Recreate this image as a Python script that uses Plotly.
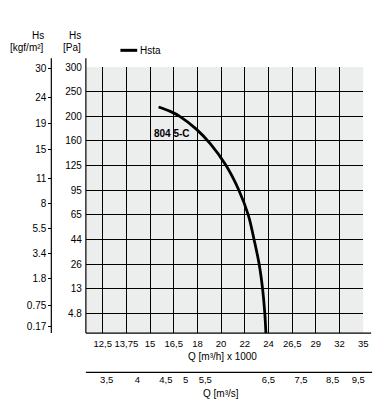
import numpy as np
import plotly.graph_objects as go

# ---- data ----
q_h_labels = ["12,5", "13,75", "15", "16,5", "18", "20", "22", "24", "26,5", "29", "32", "35"]
q_h_values = [12.5, 13.75, 15, 16.5, 18, 20, 22, 24, 26.5, 29, 32, 35]
q_s_labels = ["3,5", "4", "4,5", "5", "5,5", "6,5", "7,5", "8,5", "9,5"]
pa_labels = ["4.8", "13", "26", "44", "65", "95", "125", "160", "200", "250", "300"]
pa_values = [4.8, 13, 26, 44, 65, 95, 125, 160, 200, 250, 300]
kgf_labels = ["30", "24", "19", "15", "11", "8", "5.5", "3.4", "1.8", "0.75", "0.17"]

# curve "804 5-C" (Hsta): Q [m3/h x 1000], Hs [Pa]
curve_q = [15.54, 16.28, 16.88, 17.93, 19.1, 20.42, 21.5, 22.29, 22.78, 23.21, 23.5, 23.69, 23.78]
curve_pa = [219, 210, 200, 179.2, 155.8, 125, 95, 65, 44, 26, 13, 4.8, 0.0]

# ---- layout positions (nomograph scale positions) ----
q_h_pos = list(range(len(q_h_values)))
q_s_pos = [0.17, 1.46, 2.67, 3.5, 4.33, 7.0, 8.375, 9.71, 10.79]
pa_pos = list(range(len(pa_values)))
kgf_pos = [9.96, 8.76, 7.72, 6.64, 5.48, 4.48, 3.44, 2.44, 1.4, 0.32, -0.52]
Y0 = -0.8
X0 = -0.71

W, H = 385, 401
def px(x): return x / W
def py(y): return 1 - y / H

# map data to nomograph axis positions
cx = np.interp(curve_q, q_h_values, q_h_pos)
cy = np.interp(curve_pa, [0.0] + pa_values, [Y0] + pa_pos)

FONT = "Liberation Sans, Arial, sans-serif"

fig = go.Figure()
fig.add_trace(go.Scatter(x=cx, y=cy, mode="lines", name="Hsta",
                         line=dict(color="black", width=2.8, shape="spline", smoothing=1.0),
                         showlegend=False))
fig.add_trace(go.Scatter(x=[0], y=[0], yaxis="y2", mode="markers",
                         marker=dict(opacity=0), showlegend=False, hoverinfo="skip"))
fig.add_trace(go.Scatter(x=[0], y=[0], xaxis="x2", mode="markers",
                         marker=dict(opacity=0), showlegend=False, hoverinfo="skip"))

fig.update_layout(
    width=W, height=H,
    margin=dict(l=0, r=0, t=0, b=0),
    paper_bgcolor="white",
    plot_bgcolor="rgb(236,237,237)",
    font=dict(family=FONT, size=10, color="black"),
    xaxis=dict(domain=[px(87), px(368)], range=[X0, 11], tickvals=q_h_pos, ticktext=q_h_labels,
               showgrid=True, gridcolor="black", gridwidth=1.2, zeroline=False, tickangle=0,
               ticks="outside", ticklen=2, tickcolor="rgba(0,0,0,0)", showline=False,
               tickfont=dict(size=9.5)),
    xaxis2=dict(overlaying="x", anchor="free", position=py(372), side="bottom",
                range=[X0, 11], tickvals=q_s_pos, ticktext=q_s_labels, tickangle=0,
                showgrid=False, zeroline=False, ticks="", showline=False, tickfont=dict(size=9.5)),
    yaxis=dict(domain=[py(332), py(62)], range=[Y0, 10], tickvals=pa_pos, ticktext=pa_labels,
               showgrid=True, gridcolor="black", gridwidth=1.2, zeroline=False,
               ticks="outside", ticklen=1, tickcolor="rgba(0,0,0,0)", showline=False,
               tickfont=dict(size=10)),
    yaxis2=dict(overlaying="y", anchor="free", position=px(52), side="left",
                range=[Y0, 10], tickvals=kgf_pos, ticktext=kgf_labels,
                showgrid=False, zeroline=False, ticks="outside", ticklen=3, tickwidth=1,
                tickcolor="black", showline=False, tickfont=dict(size=10)),
)

line = dict(color="black", width=1.2)
shapes = [
    dict(type="line", xref="paper", yref="paper", x0=px(52), x1=px(52), y0=py(53), y1=py(332), line=line),
    dict(type="line", xref="paper", yref="paper", x0=px(87), x1=px(87), y0=py(53), y1=py(332), line=line),
    dict(type="line", xref="paper", yref="paper", x0=px(87), x1=px(376), y0=py(332), y1=py(332), line=line),
    dict(type="line", xref="paper", yref="paper", x0=px(87), x1=px(377), y0=py(372), y1=py(372), line=line),
    dict(type="line", xref="paper", yref="paper", x0=px(122), x1=px(139), y0=py(45), y1=py(45),
         line=dict(color="black", width=3)),
]
fig.update_layout(shapes=shapes)

ann = [
    dict(text="Hs", x=px(47), y=py(30), xanchor="right"),
    dict(text="[kgf/m²]", x=px(47), y=py(42), xanchor="right"),
    dict(text="Hs", x=px(84), y=py(30), xanchor="right"),
    dict(text="[Pa]", x=px(84), y=py(42), xanchor="right"),
    dict(text="Hsta", x=px(140), y=py(45), xanchor="left"),
    dict(text="<b>804 5-C</b>", x=px(154), y=py(129), xanchor="left"),
    dict(text="Q [m³/h] x 1000", x=px(225), y=py(356), xanchor="center"),
    dict(text="Q [m³/s]", x=px(224), y=py(393), xanchor="center"),
]
for a in ann:
    a.update(xref="paper", yref="paper", yanchor="middle", showarrow=False,
             font=dict(family=FONT, size=10, color="black"))
fig.update_layout(annotations=ann)

fig.write_html("out.html", config={"displayModeBar": False},
               post_script="document.body.style.margin='0';document.body.style.overflow='hidden';")
